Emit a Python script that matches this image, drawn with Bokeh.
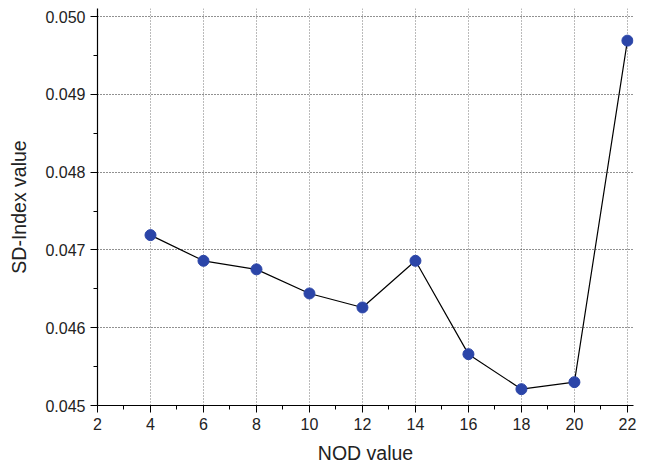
from bokeh.plotting import figure
from bokeh.models import FixedTicker, NumeralTickFormatter, Range1d
from bokeh.embed import file_html
from bokeh.resources import INLINE

nod = [4, 6, 8, 10, 12, 14, 16, 18, 20, 22]
sd_index = [0.04719, 0.04686, 0.04675, 0.04644, 0.04626, 0.04686, 0.04566, 0.04521, 0.04530, 0.04969]
x_ticks = [2, 4, 6, 8, 10, 12, 14, 16, 18, 20, 22]
x_minor = [3, 5, 7, 9, 11, 13, 15, 17, 19, 21]
y_ticks = [0.045, 0.046, 0.047, 0.048, 0.049, 0.050]
y_minor = [0.0455, 0.0465, 0.0475, 0.0485, 0.0495]

p = figure(frame_width=536, frame_height=397, output_backend="svg", toolbar_location=None,
           x_range=Range1d(2, 22.23), y_range=Range1d(0.045, 0.050103),
           min_border_left=97, min_border_right=7, min_border_top=8, min_border_bottom=40)
p.outline_line_color = None
p.background_fill_color = "white"
p.border_fill_color = "white"

p.line(nod, sd_index, line_color="black", line_width=1.2)
p.scatter(nod, sd_index, size=11, fill_color="#2B45A8", line_color="#2B45A8")

font = "Liberation Sans"
for ax in (p.xaxis, p.yaxis):
    ax.axis_line_color = "black"
    ax.axis_line_width = 1.2
    ax.major_tick_line_color = "black"
    ax.minor_tick_line_color = "black"
    ax.major_tick_out = 7
    ax.major_tick_in = 0
    ax.minor_tick_out = 4
    ax.minor_tick_in = 0
    ax.major_label_text_font = font
    ax.major_label_text_font_size = "16px"
    ax.major_label_text_color = "#222222"
    ax.axis_label_text_font = font
    ax.axis_label_text_font_size = "19.5px"
    ax.axis_label_text_font_style = "normal"
    ax.axis_label_text_color = "#222222"

p.xaxis.major_label_standoff = 5
p.yaxis.major_label_standoff = 5
p.xaxis.ticker = FixedTicker(ticks=x_ticks, minor_ticks=x_minor)
p.yaxis.ticker = FixedTicker(ticks=y_ticks, minor_ticks=y_minor)
p.yaxis.formatter = NumeralTickFormatter(format="0.000")
p.xaxis.axis_label = "NOD value"
p.yaxis.axis_label = "SD-Index value"
p.xaxis.axis_label_standoff = 9
p.yaxis.axis_label_standoff = 12

p.ygrid.grid_line_color = "#222222"
p.xgrid.grid_line_color = "#777777"
for g in (p.xgrid, p.ygrid):
    g.grid_line_dash = "1 2"
    g.grid_line_width = 1

open("out.html", "w").write(file_html(p, INLINE))
